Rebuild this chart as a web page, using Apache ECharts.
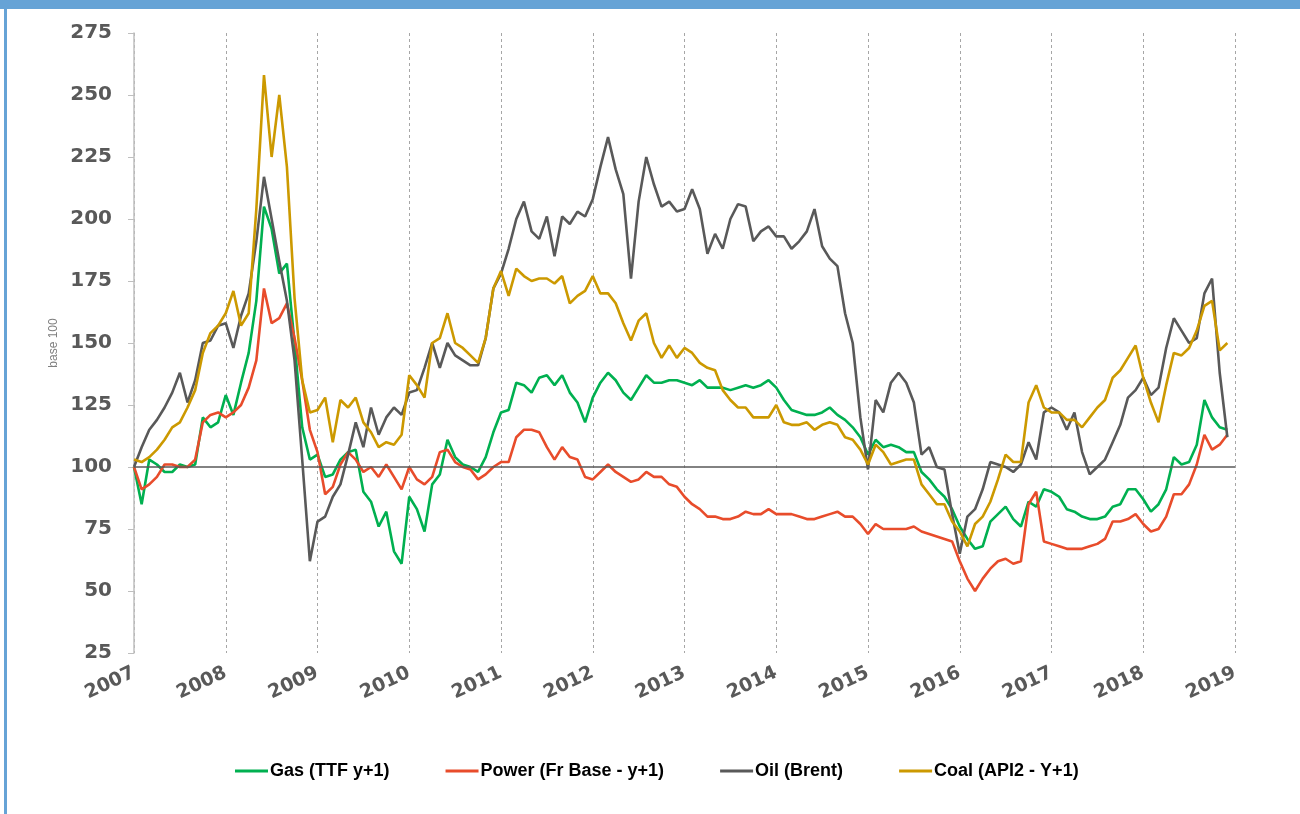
<!DOCTYPE html>
<html>
<head>
<meta charset="utf-8">
<script src="https://cdn.jsdelivr.net/npm/echarts@6/dist/echarts.min.js"></script>
<style>
html,body{margin:0;padding:0;background:#fff;}
#chart{width:1300px;height:814px;}
</style>
</head>
<body>
<div id="chart"></div>
<script>
// Monthly observations, January 2007 to December 2018 (base 100 = Jan 2007)
const startYear = 2007;
const yearTicks = [2007, 2008, 2009, 2010, 2011, 2012, 2013, 2014, 2015, 2016, 2017, 2018, 2019];

const gas = [
  100, 85, 103, 101, 98, 98, 101, 100, 101, 120, 116, 118,
  129, 121, 134, 146, 167, 205, 196, 178, 182, 150, 116, 103,
  105, 96, 97, 103, 106, 107, 90, 86, 76, 82, 66, 61,
  88, 83, 74, 93, 97, 111, 104, 101, 100, 98, 104, 114,
  122, 123, 134, 133, 130, 136, 137, 133, 137, 130, 126, 118,
  128, 134, 138, 135, 130, 127, 132, 137, 134, 134, 135, 135,
  134, 133, 135, 132, 132, 132, 131, 132, 133, 132, 133, 135,
  132, 127, 123, 122, 121, 121, 122, 124, 121, 119, 116, 112,
  105, 111, 108, 109, 108, 106, 106, 98, 95, 91, 88, 83,
  76, 71, 67, 68, 78, 81, 84, 79, 76, 86, 84, 91,
  90, 88, 83, 82, 80, 79, 79, 80, 84, 85, 91, 91,
  87, 82, 85, 91, 104, 101, 102, 109, 127, 120, 116, 115
];

const power = [
  100, 91, 93, 96, 101, 101, 100, 100, 103, 118, 121, 122,
  120, 122, 125, 132, 143, 172, 158, 160, 166, 152, 135, 115,
  106, 89, 92, 101, 106, 103, 98, 100, 96, 101, 96, 91,
  100, 95, 93, 96, 106, 107, 102, 100, 99, 95, 97, 100,
  102, 102, 112, 115, 115, 114, 108, 103, 108, 104, 103, 96,
  95, 98, 101, 98, 96, 94, 95, 98, 96, 96, 93, 92,
  88, 85, 83, 80, 80, 79, 79, 80, 82, 81, 81, 83,
  81, 81, 81, 80, 79, 79, 80, 81, 82, 80, 80, 77,
  73, 77, 75, 75, 75, 75, 76, 74, 73, 72, 71, 70,
  62, 55, 50, 55, 59, 62, 63, 61, 62, 85, 90, 70,
  69, 68, 67, 67, 67, 68, 69, 71, 78, 78, 79, 81,
  77, 74, 75, 80, 89, 89, 93, 101, 113, 107, 109, 113
];

const oil = [
  100, 108, 115, 119, 124, 130, 138, 126, 135, 150, 151, 157,
  158, 148, 161, 170, 191, 217, 200, 183, 167, 143, 103, 62,
  78, 80, 88, 93, 105, 118, 108, 124, 113, 120, 124, 121,
  130, 131, 140, 150, 140, 150, 145, 143, 141, 141, 152, 172,
  178, 188, 200, 207, 195, 192, 201, 185, 201, 198, 203, 201,
  208, 221, 233, 220, 210, 176, 207, 225, 214, 205, 207, 203,
  204, 212, 204, 186, 194, 188, 200, 206, 205, 191, 195, 197,
  193, 193, 188, 191, 195, 204, 189, 184, 181, 162, 150, 120,
  99, 127, 122, 134, 138, 134, 126, 105, 108, 100, 99, 81,
  65, 80, 83, 91, 102, 101, 100, 98, 101, 110, 103, 122,
  124, 122, 115, 122, 106, 97, 100, 103, 110, 117, 128, 131,
  136, 129, 132, 148, 160, 155, 150, 152, 170, 176, 138, 112
];

const coal = [
  103, 102, 104, 107, 111, 116, 118, 124, 131, 146, 154, 157,
  162, 171, 157, 162, 204, 258, 225, 250, 221, 168, 135, 122,
  123, 128, 110, 127, 124, 128, 118, 114, 108, 110, 109, 113,
  137, 133, 128, 150, 152, 162, 150, 148, 145, 142, 152, 172,
  179, 169, 180, 177, 175, 176, 176, 174, 177, 166, 169, 171,
  177, 170, 170, 166, 158, 151, 159, 162, 150, 144, 149, 144,
  148, 146, 142, 140, 139, 131, 127, 124, 124, 120, 120, 120,
  125, 118, 117, 117, 118, 115, 117, 118, 117, 112, 111, 107,
  101, 109, 106, 101, 102, 103, 103, 93, 89, 85, 85, 78,
  74, 68, 77, 80, 86, 95, 105, 102, 102, 126, 133, 124,
  122, 122, 119, 119, 116, 120, 124, 127, 136, 139, 144, 149,
  136, 126, 118, 133, 146, 145, 148, 155, 165, 167, 147, 150
];

const seriesNames = ['Gas (TTF y+1)', 'Power (Fr Base - y+1)', 'Oil (Brent)', 'Coal (API2 - Y+1)'];
const seriesColors = ['#00b050', '#e84c2b', '#595959', '#cc9900'];

function toPairs(values) {
  return values.map(function (v, i) { return [startYear + i / 12, v]; });
}

const chart = echarts.init(document.getElementById('chart'), null, { renderer: 'canvas' });
const font = "'Liberation Sans', 'DejaVu Sans', sans-serif";
const tickFont = "'DejaVu Sans', 'Liberation Sans', sans-serif";

const series = [gas, power, oil, coal].map(function (vals, k) {
  const s = {
    name: seriesNames[k],
    type: 'line',
    data: toPairs(vals),
    showSymbol: false,
    symbol: 'none',
    smooth: false,
    lineStyle: { width: 2.6, color: seriesColors[k] },
    itemStyle: { color: seriesColors[k] },
    z: 3 + k,
    animation: false
  };
  if (k === 0) {
    s.markLine = {
      silent: true,
      symbol: 'none',
      label: { show: false },
      lineStyle: { color: '#595959', width: 1.5, type: 'solid' },
      data: [{ yAxis: 100 }],
      animation: false
    };
  }
  return s;
});

chart.setOption({
  backgroundColor: '#ffffff',
  animation: false,
  graphic: [
    { type: 'rect', left: 0, top: 0, shape: { width: 1300, height: 9 }, style: { fill: '#66a3d6' }, z: 10 },
    { type: 'rect', left: 4, top: 0, shape: { width: 3, height: 814 }, style: { fill: '#66a3d6' }, z: 10 }
  ],
  grid: { left: 134, right: 65, top: 33, bottom: 161, containLabel: false },
  legend: {
    left: 230,
    top: 757,
    itemWidth: 33,
    itemHeight: 3,
    itemGap: 56,
    icon: 'rect',
    textStyle: { color: '#000000', fontSize: 18, fontWeight: 'bold', fontFamily: font, padding: [0, 0, 0, -3] },
    data: seriesNames
  },
  xAxis: {
    type: 'value',
    min: yearTicks[0],
    max: yearTicks[yearTicks.length - 1],
    interval: 1,
    axisLine: { show: false },
    axisTick: { show: false },
    axisLabel: {
      rotate: 25,
      margin: 19,
      color: '#595959',
      fontSize: 19,
      fontWeight: 'bold',
      fontFamily: tickFont,
      formatter: function (v) { return String(Math.round(v)); }
    },
    splitLine: { show: true, lineStyle: { color: '#a6a6a6', type: [3, 3], width: 1 } }
  },
  yAxis: {
    type: 'value',
    min: 25,
    max: 275,
    interval: 25,
    name: 'base 100',
    nameLocation: 'middle',
    nameGap: 70,
    nameTextStyle: { color: '#7f7f7f', fontSize: 12, fontFamily: font },
    axisLine: { show: true, lineStyle: { color: '#bfbfbf', width: 1.5 } },
    axisTick: { show: true, length: 6, lineStyle: { color: '#bfbfbf' } },
    axisLabel: { color: '#595959', fontSize: 20, fontWeight: 'bold', fontFamily: tickFont, margin: 22 },
    splitLine: { show: false }
  },
  series: series
});
</script>
</body>
</html>
